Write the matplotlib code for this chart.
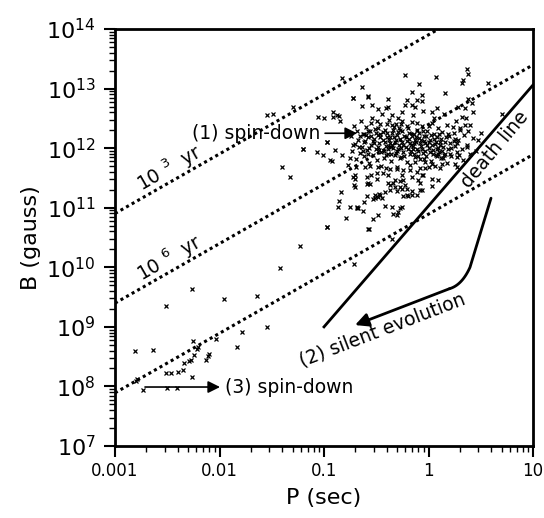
import matplotlib
matplotlib.use("Agg")
import matplotlib.pyplot as plt
import numpy as np

# pulsar positions, as (log10 P [s], log10 B [G])
msp_pts = [
    (-2.266, 9.63), (-2.515, 9.35), (-1.957, 9.47), (-1.638, 9.52), (-1.543, 9.00), (-1.785, 8.92),
    (-2.809, 8.60), (-2.633, 8.61), (-2.256, 8.76), (-2.033, 8.79), (-1.833, 8.66), (-2.203, 8.67),
    (-2.213, 8.62), (-2.244, 8.53), (-2.098, 8.54), (-2.107, 8.51), (-2.276, 8.45), (-2.289, 8.43),
    (-2.129, 8.44), (-2.337, 8.39), (-2.346, 8.28), (-2.394, 8.24), (-2.464, 8.22), (-2.515, 8.22),
    (-2.263, 8.15), (-2.792, 8.13), (-2.799, 8.09), (-2.729, 7.94), (-2.500, 7.98), (-2.410, 7.98),
]
sparse_pts = [
    (-1.485, 12.58), (-1.300, 12.69), (-1.204, 11.99), (-1.405, 11.68), (-1.322, 11.52), (-1.230, 10.36),
    (-1.421, 9.98), (-1.070, 11.94), (-1.007, 11.89), (-0.943, 11.80), (-0.895, 11.97), (-0.974, 12.11),
    (-0.974, 10.68), (-1.548, 12.55), (-0.713, 10.05), (-0.968, 10.68), (-0.353, 10.48), (-0.569, 10.64),
    (-1.198, 11.99),
]
upper_pts = [
    (-0.825, 13.18), (-0.639, 13.03), (-0.720, 12.85), (-0.576, 12.88), (-0.385, 12.83), (-0.639, 12.71),
    (-0.544, 12.73), (-0.480, 12.65), (-0.407, 12.67), (-0.391, 12.69), (-0.448, 12.58), (-1.055, 12.53),
    (-0.997, 12.50), (-0.911, 12.61), (-0.879, 12.56), (-0.911, 12.53), (-0.854, 12.54), (-0.847, 12.46),
    (-0.975, 12.11), (-0.831, 11.88), (-0.751, 11.83), (-0.767, 11.71), (-0.720, 12.05), (-0.662, 12.02),
    (-0.614, 12.23), (-0.576, 12.28), (-0.554, 12.42), (-0.480, 12.34), (-0.464, 12.24), (-0.400, 12.40),
    (-0.353, 12.39), (-0.289, 12.50), (-0.257, 12.45), (-0.273, 12.31), (-0.926, 11.78),
    (-0.225, 13.22), (0.069, 13.20), (0.365, 13.33), (0.381, 13.24), (0.333, 13.14), (0.317, 13.10),
    (0.572, 13.09), (-0.087, 13.07), (-0.161, 12.94), (0.158, 12.93), (-0.066, 12.89), (-0.113, 12.81),
    (-0.066, 12.79), (-0.210, 12.81), (-0.225, 12.73), (-0.161, 12.72), (-0.129, 12.69), (0.381, 12.83),
    (0.413, 12.75), (0.285, 12.69), (0.349, 12.68), (0.077, 12.68), (0.030, 12.61), (0.429, 12.61),
    (0.317, 12.53), (0.359, 12.50), (0.349, 12.39), (0.397, 12.39), (0.381, 12.29), (0.301, 12.34),
    (0.237, 12.36), (0.477, 12.13), (0.365, 12.02), (0.700, 12.58), (0.254, 12.16), (0.269, 12.08),
    (0.269, 11.85), (0.254, 11.74), (0.125, 11.74), (0.030, 11.74), (-0.033, 11.76), (-0.129, 11.77),
    (0.141, 11.83), (0.094, 11.91), (0.206, 11.91), (-0.720, 12.85), (-0.576, 12.86),
]
lower_pts = [
    (-0.694, 11.69), (-0.608, 11.69), (-0.560, 11.70), (-0.480, 11.69), (-0.407, 11.67), (-0.368, 11.65),
    (-0.304, 11.65), (-0.703, 11.55), (-0.592, 11.52), (-0.554, 11.55), (-0.490, 11.59), (-0.433, 11.58),
    (-0.385, 11.55), (-0.257, 11.55), (-0.703, 11.49), (-0.496, 11.49), (-0.320, 11.46), (-0.713, 11.38),
    (-0.703, 11.35), (-0.592, 11.39), (-0.560, 11.39), (-0.385, 11.41), (-0.337, 11.41), (-0.273, 11.45),
    (-0.320, 11.35), (-0.273, 11.35), (-0.368, 11.30), (-0.304, 11.28), (-0.257, 11.31), (-0.416, 11.26),
    (-0.512, 11.22), (-0.471, 11.23), (-0.480, 11.18), (-0.448, 11.16), (-0.528, 11.14), (-0.592, 11.20),
    (-0.837, 11.27), (-0.853, 11.11), (-0.863, 11.02), (-0.751, 11.02), (-0.672, 11.00), (-0.624, 10.94),
    (-0.416, 11.03), (-0.353, 11.02), (-0.273, 11.00), (-0.337, 10.90), (-0.480, 10.88), (-0.790, 10.83),
    (-0.528, 10.81), (-0.576, 10.65), (-0.241, 11.63), (-0.177, 11.63), (-0.113, 11.60), (-0.033, 11.66),
    (0.000, 11.69), (0.110, 11.66), (-0.241, 11.46), (-0.161, 11.52), (-0.097, 11.46), (-0.066, 11.55),
    (0.030, 11.48), (0.030, 11.37), (-0.081, 11.41), (-0.210, 11.32), (-0.066, 11.30), (-0.113, 11.22),
    (-0.241, 11.20), (-0.193, 11.20), (-0.161, 11.21), (-0.257, 11.02), (0.269, 11.69), (-0.614, 11.10),
    (-0.681, 10.99), (-0.289, 10.93), (-0.687, 11.01), (-0.720, 11.52), (-0.576, 11.41), (-0.464, 11.22),
    (-0.210, 11.21), (-0.161, 11.28), (-0.081, 11.30), (-0.225, 11.38), (-0.368, 11.38), (0.094, 11.46),
    (-0.050, 11.55), (-0.304, 10.88), (-0.512, 11.16),
]
core_pts = [
    (-0.74, 12.21), (-0.73, 11.95), (-0.71, 12.38), (-0.70, 12.07), (-0.69, 11.81), (-0.68, 12.29),
    (-0.67, 12.14), (-0.66, 11.92), (-0.65, 12.45), (-0.64, 12.02), (-0.63, 12.24), (-0.62, 11.86),
    (-0.61, 12.12), (-0.60, 12.35), (-0.59, 11.97), (-0.58, 12.19), (-0.57, 11.75), (-0.56, 12.28),
    (-0.55, 12.05), (-0.54, 12.51), (-0.53, 11.89), (-0.52, 12.16), (-0.51, 12.32), (-0.50, 11.99),
    (-0.49, 11.80), (-0.48, 12.22), (-0.47, 12.09), (-0.46, 12.41), (-0.45, 11.94), (-0.44, 12.13),
    (-0.43, 11.84), (-0.42, 12.30), (-0.41, 12.03), (-0.40, 12.19), (-0.39, 11.91), (-0.38, 12.48),
    (-0.37, 12.08), (-0.36, 11.78), (-0.35, 12.25), (-0.34, 12.00), (-0.33, 12.36), (-0.32, 11.88),
    (-0.31, 12.14), (-0.30, 11.96), (-0.29, 12.27), (-0.28, 12.06), (-0.27, 11.83), (-0.26, 12.40),
    (-0.25, 12.11), (-0.24, 11.93), (-0.23, 12.21), (-0.22, 12.02), (-0.21, 11.76), (-0.20, 12.33),
    (-0.19, 12.15), (-0.18, 11.90), (-0.17, 12.05), (-0.16, 12.44), (-0.15, 11.98), (-0.14, 12.23),
    (-0.13, 11.85), (-0.12, 12.10), (-0.11, 12.31), (-0.10, 11.95), (-0.09, 12.17), (-0.08, 11.81),
    (-0.07, 12.04), (-0.06, 12.37), (-0.05, 11.92), (-0.04, 12.20), (-0.03, 12.08), (-0.02, 11.87),
    (-0.01, 12.29), (0.00, 12.01), (0.01, 12.13), (0.02, 11.79), (0.03, 12.42), (0.04, 11.97),
    (0.05, 12.24), (0.06, 12.07), (0.07, 11.89), (0.08, 12.18), (0.09, 12.34), (0.10, 11.94),
    (0.11, 12.11), (0.12, 11.83), (0.13, 12.27), (0.14, 12.02), (0.16, 11.91), (0.17, 12.19),
    (0.18, 12.39), (0.19, 11.99), (0.21, 12.09), (0.22, 11.86), (0.24, 12.25), (0.25, 12.04),
    (0.27, 11.93), (0.28, 12.14), (0.30, 12.31), (0.32, 11.98), (0.34, 12.22), (0.37, 12.06),
    (0.40, 11.90), (0.43, 12.17),
    (-0.52, 12.08), (-0.47, 11.97), (-0.44, 12.27), (-0.41, 11.88), (-0.38, 12.13), (-0.36, 12.02),
    (-0.33, 12.18), (-0.31, 11.92), (-0.28, 12.33), (-0.26, 12.00), (-0.23, 11.87), (-0.21, 12.12),
    (-0.19, 12.26), (-0.17, 11.95), (-0.14, 12.08), (-0.12, 12.19), (-0.10, 11.86), (-0.07, 12.13),
    (-0.05, 12.28), (-0.03, 11.96), (-0.01, 12.06), (0.02, 12.22), (0.04, 11.90), (0.07, 12.10),
    (0.09, 12.01), (0.12, 12.16), (0.15, 11.88), (0.20, 12.20), (-0.62, 12.10), (-0.58, 11.90),
    (-0.55, 12.20), (-0.49, 12.45), (-0.35, 12.55), (-0.25, 12.60), (-0.15, 12.55), (-0.05, 12.62),
    (0.05, 12.50), (0.15, 12.58), (0.26, 12.45), (-0.45, 11.70), (-0.30, 11.68), (-0.18, 11.72),
    (-0.08, 11.66), (0.06, 11.70), (0.18, 11.75), (0.33, 11.80), (0.45, 11.95), (0.50, 12.25),
]
dense_pts = [
    (-0.42, 12.10), (-0.40, 12.25), (-0.39, 11.98), (-0.37, 12.18), (-0.35, 12.05), (-0.34, 12.30),
    (-0.32, 12.10), (-0.30, 12.22), (-0.29, 11.99), (-0.27, 12.15), (-0.25, 12.28), (-0.24, 12.05),
    (-0.22, 12.18), (-0.20, 11.98), (-0.18, 12.09), (-0.16, 12.21), (-0.15, 12.03), (-0.13, 12.14),
    (-0.11, 11.99), (-0.09, 12.25), (-0.08, 12.09), (-0.06, 11.98), (-0.04, 12.12), (-0.02, 12.20),
    (0.00, 12.11), (0.01, 11.94), (0.03, 12.05), (0.05, 12.16), (0.08, 11.98), (0.10, 12.23),
    (0.11, 12.05), (0.13, 11.95), (0.16, 12.10), (0.19, 12.24), (0.22, 12.00), (-0.46, 12.18),
    (-0.48, 12.02), (-0.50, 12.26), (-0.53, 12.12), (-0.57, 12.00), (-0.60, 12.22), (-0.43, 11.95),
    (-0.31, 12.40), (-0.21, 12.38), (-0.11, 12.42), (0.00, 12.38), (-0.36, 11.90), (-0.26, 11.85),
    (-0.14, 11.90), (-0.04, 11.82), (0.08, 11.87), (0.24, 12.12), (0.29, 11.88), (-0.66, 12.20),
    (-0.63, 11.95),
]

# constant-age lines: B at P = 0.001 s (slope 1 in log-log)
age_b0 = [8.0e10, 2.5e9, 7.8e7]
age_p = [0.001, 10.0]

death_p = [0.1, 10.0]
death_b = [1.0e9, 1.15e13]

# silent evolution track (log10 P, log10 B)
track_logp = [0.598, 0.397, 0.32, 0.20]
track_logb = [11.16, 10.00, 9.70, 9.64]
track_tip = (-0.703, 9.03)

xtick_vals = [0.001, 0.01, 0.1, 1, 10]
xtick_labels = ["0.001", "0.01", "0.1", "1", "10"]
ytick_exp = [7, 8, 9, 10, 11, 12, 13, 14]

fig = plt.figure(figsize=(5.44, 5.18), dpi=100)
ax = fig.add_axes([0.2114, 0.139, 0.7684, 0.805])
ax.set_xscale("log")
ax.set_yscale("log")
ax.set_xlim(0.001, 10)
ax.set_ylim(1e7, 1e14)

pts = np.array(msp_pts + sparse_pts + upper_pts + lower_pts + core_pts + dense_pts)
ax.plot(10 ** pts[:, 0], 10 ** pts[:, 1], ls="none", marker="x", ms=3.0, mew=0.9, color="k")

for b0 in age_b0:
    p = np.array(age_p)
    ax.plot(p, b0 * p / 0.001, color="k", lw=2.2, ls=(0, (1, 1.1)))

ax.plot(death_p, death_b, color="k", lw=2)

# silent evolution: straight drop, rounded bend, then arrow
t = np.linspace(0, 1, 20)
lp0, lp1, lp2 = track_logp[1], track_logp[2], track_logp[3]
lb0, lb1, lb2 = track_logb[1], track_logb[2], track_logb[3]
bend_p = (1 - t) ** 2 * lp0 + 2 * t * (1 - t) * lp1 + t ** 2 * lp2
bend_b = (1 - t) ** 2 * lb0 + 2 * t * (1 - t) * lb1 + t ** 2 * lb2
curve_p = np.concatenate([[track_logp[0]], bend_p])
curve_b = np.concatenate([[track_logb[0]], bend_b])
ax.plot(10 ** curve_p, 10 ** curve_b, color="k", lw=2, solid_capstyle="round")
ax.annotate("", xy=(10 ** track_tip[0], 10 ** track_tip[1]),
            xytext=(10 ** lp2, 10 ** lb2),
            arrowprops=dict(arrowstyle="-|>", color="k", lw=2, mutation_scale=20, shrinkA=0, shrinkB=0))

# spin-down arrows
ax.annotate("", xy=(10 ** -0.684, 10 ** 12.25), xytext=(10 ** -0.99, 10 ** 12.25),
            arrowprops=dict(arrowstyle="-|>", color="k", lw=1.2, mutation_scale=18, shrinkA=0, shrinkB=0))
ax.annotate("", xy=(10 ** -1.995, 10 ** 7.99), xytext=(10 ** -2.713, 10 ** 7.99),
            arrowprops=dict(arrowstyle="-|>", color="k", lw=1.2, mutation_scale=18, shrinkA=0, shrinkB=0))

fs = 13.5
ax.text(10 ** -2.26, 10 ** 12.25, "(1) spin-down", fontsize=fs, ha="left", va="center")
ax.text(10 ** -1.947, 10 ** 7.99, "(3) spin-down", fontsize=fs, ha="left", va="center")
ax.text(10 ** -0.445, 10 ** 8.95, "(2) silent evolution", fontsize=fs, ha="center", va="center", rotation=21)
ax.text(10 ** 0.636, 10 ** 11.98, "death line", fontsize=fs, ha="center", va="center", rotation=50)
ax.text(10 ** -2.474, 10 ** 11.66, "10 $^{3}$  yr", fontsize=fs, ha="center", va="center", rotation=30)
ax.text(10 ** -2.474, 10 ** 10.15, "10 $^{6}$  yr", fontsize=fs, ha="center", va="center", rotation=30)

ax.set_xticks(xtick_vals)
ax.set_xticklabels(xtick_labels, fontsize=12)
ax.set_yticks([10.0 ** e for e in ytick_exp])
ax.set_yticklabels([r"$\mathregular{10^{%d}}$" % e for e in ytick_exp], fontsize=16)
ax.tick_params(which="major", direction="out", length=8, width=1.5, top=False, right=False)
ax.tick_params(which="minor", direction="out", length=4.5, width=1, top=False, right=False)
ax.tick_params(axis="y", which="major", pad=6)
for s in ax.spines.values():
    s.set_linewidth(2)

ax.set_xlabel("P (sec)", fontsize=16, labelpad=6)
ax.set_ylabel("B (gauss)", fontsize=16, labelpad=4)

fig.savefig("out.png", dpi=100)
